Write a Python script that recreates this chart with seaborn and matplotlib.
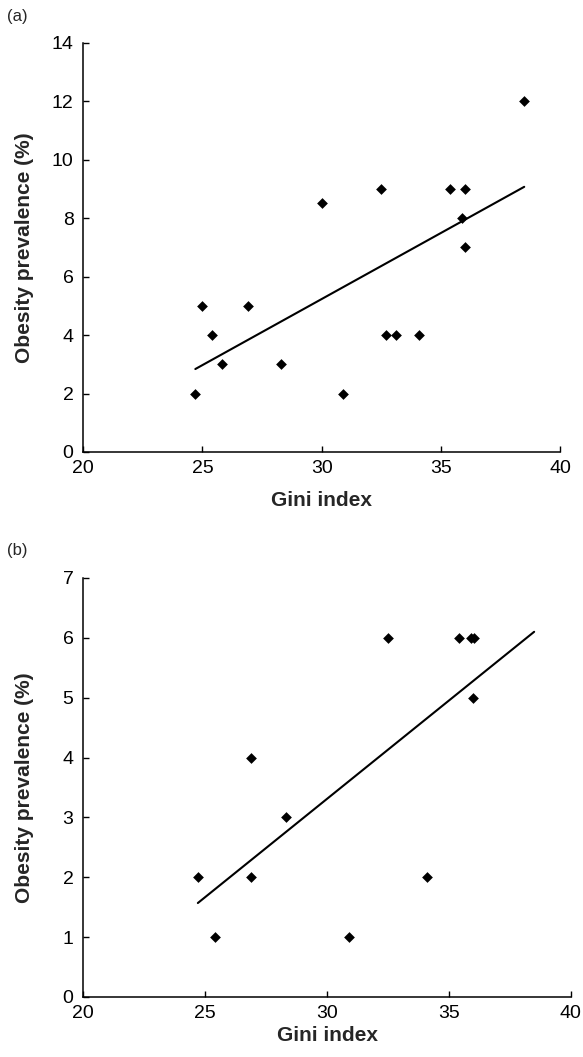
import numpy as np
import pandas as pd
import matplotlib
matplotlib.use("Agg")
import matplotlib.pyplot as plt
import seaborn as sns

# Datos
gini_a = [24.7, 25.0, 25.4, 25.8, 26.9, 28.3, 30.0, 30.9, 32.5, 32.7, 33.1, 34.1, 35.4, 36.0, 35.9, 36.0, 38.5]
obesity_a = [2, 5, 4, 3, 5, 3, 8.5, 2, 9, 4, 4, 4, 9, 9, 8, 7, 12]

gini_b = [24.7, 25.4, 26.9, 26.9, 28.3, 30.9, 32.5, 34.1, 35.4, 35.9, 36.05, 36.0]
obesity_b = [2, 1, 4, 2, 3, 1, 6, 2, 6, 6, 6, 5]

x_ticks = [20, 25, 30, 35, 40]
y_ticks_a = [0, 2, 4, 6, 8, 10, 12, 14]
y_ticks_b = [0, 1, 2, 3, 4, 5, 6, 7]

sns.set_style("ticks")
plt.rcParams["font.family"] = ["Liberation Sans", "DejaVu Sans"]

fig = plt.figure(figsize=(5.83, 10.57), dpi=100)
ax_a = fig.add_axes([0.1429, 0.5724, 0.8176, 0.3872])
ax_b = fig.add_axes([0.1429, 0.0568, 0.836, 0.3964])

df_a = pd.DataFrame({"gini": gini_a, "obesity": obesity_a})
df_b = pd.DataFrame({"gini": gini_b, "obesity": obesity_b})

# rango de la recta (igual en ambos paneles)
x_line = np.array([min(gini_a), max(gini_a)])

panels = [
    (ax_a, df_a, y_ticks_a, -0.095, -0.103),
    (ax_b, df_b, y_ticks_b, -0.07, -0.101),
]

for ax, df, yt, xlab_y, ylab_x in panels:
    sns.scatterplot(data=df, x="gini", y="obesity", marker="D", color="black",
                    s=30, linewidth=0, ax=ax, zorder=3, clip_on=False)
    slope, inter = np.polyfit(df["gini"], df["obesity"], 1)
    ax.plot(x_line, slope * x_line + inter, color="black", lw=1.5)

    ax.set_xlim(x_ticks[0], x_ticks[-1])
    ax.set_ylim(yt[0], yt[-1])
    ax.set_xticks(x_ticks)
    ax.set_yticks(yt)
    ax.tick_params(direction="in", length=4, width=1, labelsize=14,
                   colors="black")
    ax.tick_params(axis="x", pad=6)
    ax.tick_params(axis="y", pad=7)
    for s in ["top", "right"]:
        ax.spines[s].set_visible(False)
    for s in ["left", "bottom"]:
        ax.spines[s].set_linewidth(1.1)
        ax.spines[s].set_color("black")

    ax.set_xlabel("Gini index", fontsize=15, fontweight="bold")
    ax.set_ylabel("Obesity prevalence (%)", fontsize=15, fontweight="bold")
    ax.xaxis.set_label_coords(0.5, xlab_y)
    ax.yaxis.set_label_coords(ylab_x, 0.5)

fig.text(0.012, 1 - 17 / 1057, "(a)", fontsize=12, va="center", ha="left")
fig.text(0.012, 1 - 550 / 1057, "(b)", fontsize=12, va="center", ha="left")

fig.savefig("out.png", dpi=100)
